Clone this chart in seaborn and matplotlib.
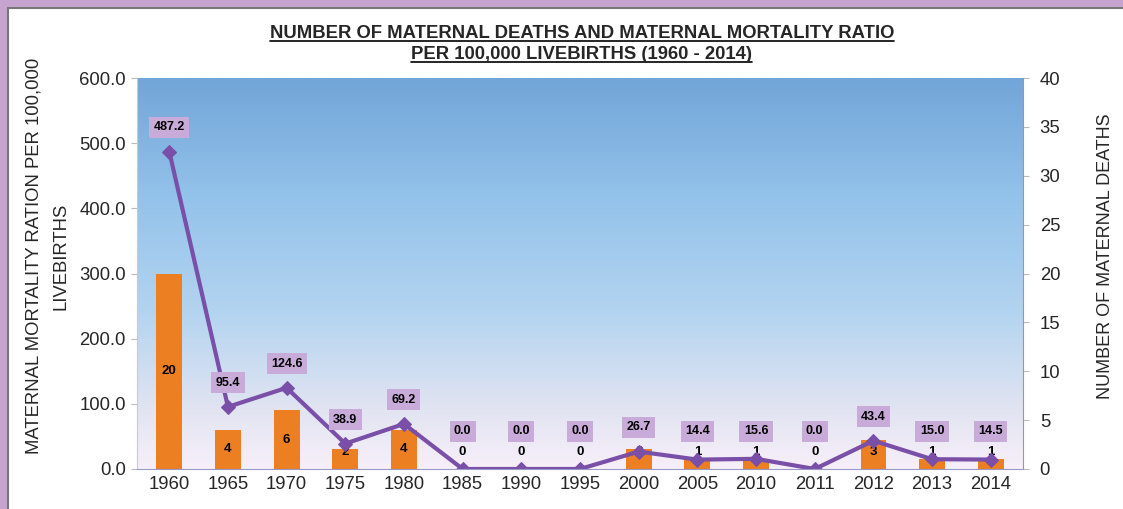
import numpy as np
import matplotlib
matplotlib.use("Agg")
import matplotlib.pyplot as plt
import seaborn as sns
from matplotlib.colors import LinearSegmentedColormap
from matplotlib.lines import Line2D
from matplotlib.patches import Rectangle

# data
years = ['1960', '1965', '1970', '1975', '1980', '1985', '1990', '1995',
         '2000', '2005', '2010', '2011', '2012', '2013', '2014']
deaths = [20, 4, 6, 2, 4, 0, 0, 0, 2, 1, 1, 0, 3, 1, 1]
mmr = [487.2, 95.4, 124.6, 38.9, 69.2, 0.0, 0.0, 0.0, 26.7, 14.4, 15.6, 0.0,
       43.4, 15.0, 14.5]

sns.set_style("white")
plt.rcParams['font.family'] = ['Liberation Sans', 'DejaVu Sans']

fig = plt.figure(figsize=(11.23, 5.09), dpi=100)

# purple frame at top and left
fig.patches.append(Rectangle((0, 0.984), 1, 0.016, transform=fig.transFigure,
                             facecolor='#c7a4cf', edgecolor='none', zorder=-5))
fig.patches.append(Rectangle((0, 0), 0.0075, 1, transform=fig.transFigure,
                             facecolor='#c7a4cf', edgecolor='none', zorder=-5))
fig.lines.append(Line2D([0.0075, 1], [0.984, 0.984], transform=fig.transFigure,
                        color='#777777', lw=1.5))
fig.lines.append(Line2D([0.0075, 0.0075], [0, 0.984], transform=fig.transFigure,
                        color='#777777', lw=1.5))

ax1 = fig.add_axes([0.122, 0.0786, 0.789, 0.768])

# gradient background
grad = LinearSegmentedColormap.from_list(
    'bg', [(0.0, '#f7eff9'), (0.15, '#e2e4f2'), (0.4, '#b3d4f0'),
           (0.7, '#93c2ea'), (1.0, '#72a5d8')])
ax1.imshow(np.linspace(0, 1, 256).reshape(-1, 1), cmap=grad, aspect='auto',
           origin='lower', extent=[0, 1, 0, 1], transform=ax1.transAxes,
           zorder=0)

sns.barplot(x=years, y=deaths, color='#ec7f22', saturation=1, width=0.44,
            linewidth=0, ax=ax1, zorder=2)
ax1.set_ylim(0, 40)
ax1.set_xlim(-0.55, len(years) - 0.45)
ax1.set_yticks(range(0, 41, 5))

for i, d in enumerate(deaths):
    ax1.text(i, max(d / 2, 1.7), str(d), ha='center', va='center',
             fontsize=9.5, fontweight='bold', color='black', zorder=3)

ax2 = ax1.twinx()
sns.lineplot(x=np.arange(len(years)), y=mmr, color='#7a4fa8', lw=3,
             marker='D', markersize=7, markeredgecolor='#7a4fa8', ax=ax2)
ax2.set_ylim(0, 600)
ax2.set_yticks(range(0, 601, 100))
ax2.set_yticklabels([f'{v:.1f}' for v in range(0, 601, 100)])

# deaths on the right, ratio on the left
ax1.yaxis.tick_right()
ax1.yaxis.set_label_position('right')
ax2.yaxis.tick_left()
ax2.yaxis.set_label_position('left')
ax1.set_ylabel('NUMBER OF MATERNAL DEATHS', fontsize=13)
ax2.set_ylabel('MATERNAL MORTALITY RATION PER 100,000\nLIVEBIRTHS',
               fontsize=13.3, linespacing=1.75)
ax1.yaxis.set_label_coords(1.0835, 0.545)
ax2.yaxis.set_label_coords(-0.076, 0.545)

for i, v in enumerate(mmr):
    ax2.text(i, max(v + 37, 58), f'{v:.1f}', ha='center', va='center',
             fontsize=9, fontweight='bold', color='black', zorder=4,
             bbox=dict(boxstyle='square,pad=0.35', facecolor='#c8abd8',
                       edgecolor='none'))

for ax in (ax1, ax2):
    ax.tick_params(axis='both', labelsize=13.3, length=4, color='#bbbbbb',
                   direction='out', pad=4)
    for s in ax.spines.values():
        s.set_visible(False)
ax1.tick_params(axis='x', length=0, pad=5)
ax1.tick_params(axis='y', pad=8)
ax2.spines['left'].set_visible(True)
ax2.spines['left'].set_color('#c8c8d8')
ax2.spines['right'].set_visible(True)
ax2.spines['right'].set_color('#999999')
ax2.spines['bottom'].set_visible(True)
ax2.spines['bottom'].set_color('#9a9ac8')

t1 = fig.text(0.518, 0.935, 'NUMBER OF MATERNAL DEATHS AND MATERNAL MORTALITY RATIO',
              ha='center', va='center', fontsize=13.3, fontweight='bold')
t2 = fig.text(0.518, 0.892, 'PER 100,000 LIVEBIRTHS (1960 - 2014)',
              ha='center', va='center', fontsize=13.3, fontweight='bold')

# underline the title lines
fig.canvas.draw()
inv = fig.transFigure.inverted()
for t in (t1, t2):
    bb = t.get_window_extent()
    (x0, y0), (x1, _) = inv.transform([(bb.x0, bb.y0), (bb.x1, bb.y1)])
    fig.lines.append(Line2D([x0, x1], [y0 + 0.002, y0 + 0.002],
                            transform=fig.transFigure, color='black', lw=1.2))

fig.savefig('out.png', dpi=100)
